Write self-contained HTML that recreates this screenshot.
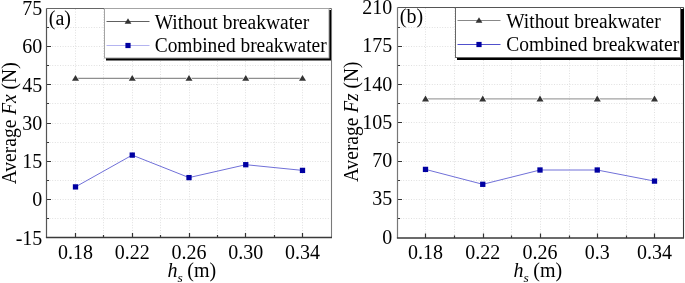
<!DOCTYPE html>
<html><head><meta charset="utf-8"><style>
html,body{margin:0;padding:0;background:#fff;}
svg{display:block;will-change:transform;}
text{font-family:"Liberation Serif", serif;fill:#000;}
</style></head><body>
<svg width="685" height="283" viewBox="0 0 685 283">
<path d="M75.50,9V236.5M103.50,9V236.5M132.50,9V236.5M160.50,9V236.5M189.50,9V236.5M217.50,9V236.5M245.50,9V236.5M274.50,9V236.5M302.50,9V236.5M47,218.50H330.5M47,199.50H330.5M47,180.50H330.5M47,161.50H330.5M47,142.50H330.5M47,123.50H330.5M47,103.50H330.5M47,84.50H330.5M47,65.50H330.5M47,46.50H330.5M47,27.50H330.5" stroke="#e0e0e0" stroke-width="1" stroke-dasharray="1 1.6" fill="none"/>
<path d="M75.50,237.5v-4.5M103.50,237.5v-2.5M132.50,237.5v-4.5M160.50,237.5v-2.5M189.50,237.5v-4.5M217.50,237.5v-2.5M245.50,237.5v-4.5M274.50,237.5v-2.5M302.50,237.5v-4.5M46.5,218.50h2.5M46.5,199.50h4.5M46.5,180.50h2.5M46.5,161.50h4.5M46.5,142.50h2.5M46.5,123.50h4.5M46.5,103.50h2.5M46.5,84.50h4.5M46.5,65.50h2.5M46.5,46.50h4.5M46.5,27.50h2.5" stroke="#333" stroke-width="1.2" fill="none"/>
<path d="M46.5,8.5H331.5" stroke="#666" stroke-width="1.1" fill="none"/>
<path d="M331.5,8.5V237.5" stroke="#7a7a7a" stroke-width="1.1" fill="none"/>
<path d="M46.5,8.5V237.5" stroke="#555" stroke-width="1.2" fill="none"/>
<path d="M45.9,237.5H332.0" stroke="#3a3a3a" stroke-width="1.3" fill="none"/>
<text x="42.3" y="244.6" text-anchor="end" font-size="20">-15</text>
<text x="42.3" y="206.3" text-anchor="end" font-size="20">0</text>
<text x="42.3" y="168.1" text-anchor="end" font-size="20">15</text>
<text x="42.3" y="129.8" text-anchor="end" font-size="20">30</text>
<text x="42.3" y="91.5" text-anchor="end" font-size="20">45</text>
<text x="42.3" y="53.3" text-anchor="end" font-size="20">60</text>
<text x="42.3" y="15.1" text-anchor="end" font-size="20">75</text>
<text x="75.5" y="258.5" text-anchor="middle" font-size="20">0.18</text>
<text x="132.2" y="258.5" text-anchor="middle" font-size="20">0.22</text>
<text x="189.0" y="258.5" text-anchor="middle" font-size="20">0.26</text>
<text x="245.8" y="258.5" text-anchor="middle" font-size="20">0.30</text>
<text x="302.5" y="258.5" text-anchor="middle" font-size="20">0.34</text>
<polyline points="75.5,78.3 132.2,78.3 189.0,78.3 245.8,78.3 302.5,78.3" stroke="#8e8e8e" stroke-width="1.3" fill="none"/>
<polyline points="75.5,186.9 132.2,155.1 189.0,177.6 245.8,164.7 302.5,170.4" stroke="#7070d8" stroke-width="1" fill="none"/>
<path d="M72.0,80.8L75.5,75.0L79.0,80.8Z" fill="#333" stroke="#fff" stroke-width="1.2" paint-order="stroke"/>
<path d="M128.8,80.8L132.2,75.0L135.8,80.8Z" fill="#333" stroke="#fff" stroke-width="1.2" paint-order="stroke"/>
<path d="M185.5,80.8L189.0,75.0L192.5,80.8Z" fill="#333" stroke="#fff" stroke-width="1.2" paint-order="stroke"/>
<path d="M242.2,80.8L245.8,75.0L249.2,80.8Z" fill="#333" stroke="#fff" stroke-width="1.2" paint-order="stroke"/>
<path d="M299.0,80.8L302.5,75.0L306.0,80.8Z" fill="#333" stroke="#fff" stroke-width="1.2" paint-order="stroke"/>
<rect x="72.85" y="184.25" width="5.3" height="5.3" fill="#0000a2"/>
<rect x="129.60" y="152.45" width="5.3" height="5.3" fill="#0000a2"/>
<rect x="186.35" y="174.95" width="5.3" height="5.3" fill="#0000a2"/>
<rect x="243.10" y="162.05" width="5.3" height="5.3" fill="#0000a2"/>
<rect x="299.85" y="167.75" width="5.3" height="5.3" fill="#0000a2"/>
<text x="48.8" y="25" font-size="20">(a)</text>
<rect x="106" y="10" width="225" height="50.5" fill="#000"/>
<rect x="104.5" y="8.5" width="224.5" height="49.5" fill="#fff" stroke="#a4a4a4" stroke-width="1"/>
<path d="M106.5,21.5H149.5" stroke="#606060" stroke-width="1"/>
<path d="M124.6,23.8L128.0,18.2L131.4,23.8Z" fill="#333"/>
<path d="M106.5,45.5H149.5" stroke="#b4b4f0" stroke-width="1"/>
<rect x="125.4" y="42.9" width="5.2" height="5.2" fill="#0000a0"/>
<text x="154.7" y="28.6" font-size="20" textLength="154.5" lengthAdjust="spacingAndGlyphs">Without breakwater</text>
<text x="154.7" y="51.6" font-size="20" textLength="172" lengthAdjust="spacingAndGlyphs">Combined breakwater</text>
<text transform="translate(16,123.3) rotate(-90)" text-anchor="middle" font-size="20" textLength="122" lengthAdjust="spacingAndGlyphs">Average <tspan font-style="italic">Fx</tspan> (N)</text>
<text x="167.6" y="277" font-size="20"><tspan font-style="italic">h</tspan><tspan font-style="italic" font-size="13.5" dy="4.6">s</tspan><tspan dy="-4.6" dx="-0.6"> (m)</tspan></text>
<path d="M425.50,8V237M454.50,8V237M483.50,8V237M511.50,8V237M540.50,8V237M569.50,8V237M597.50,8V237M626.50,8V237M654.50,8V237M398,218.50H682.5M398,199.50H682.5M398,180.50H682.5M398,161.50H682.5M398,142.50H682.5M398,122.50H682.5M398,103.50H682.5M398,84.50H682.5M398,65.50H682.5M398,46.50H682.5M398,27.50H682.5" stroke="#e0e0e0" stroke-width="1" stroke-dasharray="1 1.6" fill="none"/>
<path d="M425.50,238v-4.5M454.50,238v-2.5M483.50,238v-4.5M511.50,238v-2.5M540.50,238v-4.5M569.50,238v-2.5M597.50,238v-4.5M626.50,238v-2.5M654.50,238v-4.5M397.5,218.50h2.5M397.5,199.50h4.5M397.5,180.50h2.5M397.5,161.50h4.5M397.5,142.50h2.5M397.5,122.50h4.5M397.5,103.50h2.5M397.5,84.50h4.5M397.5,65.50h2.5M397.5,46.50h4.5M397.5,27.50h2.5" stroke="#333" stroke-width="1.2" fill="none"/>
<path d="M397.5,7.5H683.5" stroke="#555" stroke-width="1.1" fill="none"/>
<path d="M683.5,7.5V238" stroke="#3a3a3a" stroke-width="1.1" fill="none"/>
<path d="M397.5,7.5V238" stroke="#777" stroke-width="1.2" fill="none"/>
<path d="M396.9,238H684.0" stroke="#3a3a3a" stroke-width="1.6" fill="none"/>
<text x="392.3" y="243.7" text-anchor="end" font-size="20">0</text>
<text x="392.3" y="205.4" text-anchor="end" font-size="20">35</text>
<text x="392.3" y="167.2" text-anchor="end" font-size="20">70</text>
<text x="392.3" y="128.9" text-anchor="end" font-size="20">105</text>
<text x="392.3" y="90.7" text-anchor="end" font-size="20">140</text>
<text x="392.3" y="52.4" text-anchor="end" font-size="20">175</text>
<text x="392.3" y="14.1" text-anchor="end" font-size="20">210</text>
<text x="425.5" y="258.5" text-anchor="middle" font-size="20">0.18</text>
<text x="482.8" y="258.5" text-anchor="middle" font-size="20">0.22</text>
<text x="540.0" y="258.5" text-anchor="middle" font-size="20">0.26</text>
<text x="597.2" y="258.5" text-anchor="middle" font-size="20">0.3</text>
<text x="654.5" y="258.5" text-anchor="middle" font-size="20">0.34</text>
<polyline points="425.5,98.9 482.8,98.9 540.0,98.9 597.2,98.9 654.5,98.9" stroke="#a2a2a2" stroke-width="1.3" fill="none"/>
<polyline points="425.5,169.4 482.8,184.3 540.0,170.0 597.2,170.0 654.5,181.1" stroke="#7070d8" stroke-width="1" fill="none"/>
<path d="M422.0,101.4L425.5,95.60000000000001L429.0,101.4Z" fill="#333" stroke="#fff" stroke-width="1.2" paint-order="stroke"/>
<path d="M479.2,101.4L482.8,95.60000000000001L486.2,101.4Z" fill="#333" stroke="#fff" stroke-width="1.2" paint-order="stroke"/>
<path d="M536.5,101.4L540.0,95.60000000000001L543.5,101.4Z" fill="#333" stroke="#fff" stroke-width="1.2" paint-order="stroke"/>
<path d="M593.8,101.4L597.2,95.60000000000001L600.8,101.4Z" fill="#333" stroke="#fff" stroke-width="1.2" paint-order="stroke"/>
<path d="M651.0,101.4L654.5,95.60000000000001L658.0,101.4Z" fill="#333" stroke="#fff" stroke-width="1.2" paint-order="stroke"/>
<rect x="422.85" y="166.75" width="5.3" height="5.3" fill="#0000a2"/>
<rect x="480.10" y="181.65" width="5.3" height="5.3" fill="#0000a2"/>
<rect x="537.35" y="167.35" width="5.3" height="5.3" fill="#0000a2"/>
<rect x="594.60" y="167.35" width="5.3" height="5.3" fill="#0000a2"/>
<rect x="651.85" y="178.45" width="5.3" height="5.3" fill="#0000a2"/>
<text x="399.8" y="23.4" font-size="20">(b)</text>
<rect x="457" y="9" width="227" height="51" fill="#000"/>
<rect x="455.5" y="7.5" width="225.0" height="50.0" fill="#fff" stroke="#666" stroke-width="1"/>
<path d="M455.5,7.5H683.5" stroke="#555" stroke-width="1.1" fill="none"/>
<path d="M457.5,20.5H500.5" stroke="#888" stroke-width="1"/>
<path d="M475.6,22.8L479.0,17.2L482.4,22.8Z" fill="#333"/>
<path d="M457.5,44.5H500.5" stroke="#5050cc" stroke-width="1"/>
<rect x="476.4" y="41.9" width="5.2" height="5.2" fill="#0000a0"/>
<text x="506.2" y="27.7" font-size="20" textLength="154.5" lengthAdjust="spacingAndGlyphs">Without breakwater</text>
<text x="506.2" y="50.9" font-size="20" textLength="173" lengthAdjust="spacingAndGlyphs">Combined breakwater</text>
<text transform="translate(358,121.8) rotate(-90)" text-anchor="middle" font-size="20" textLength="120.5" lengthAdjust="spacingAndGlyphs">Average <tspan font-style="italic">Fz</tspan> (N)</text>
<text x="513.6" y="277" font-size="20"><tspan font-style="italic">h</tspan><tspan font-style="italic" font-size="13.5" dy="4.6">s</tspan><tspan dy="-4.6" dx="-0.6"> (m)</tspan></text>
</svg>
</body></html>
